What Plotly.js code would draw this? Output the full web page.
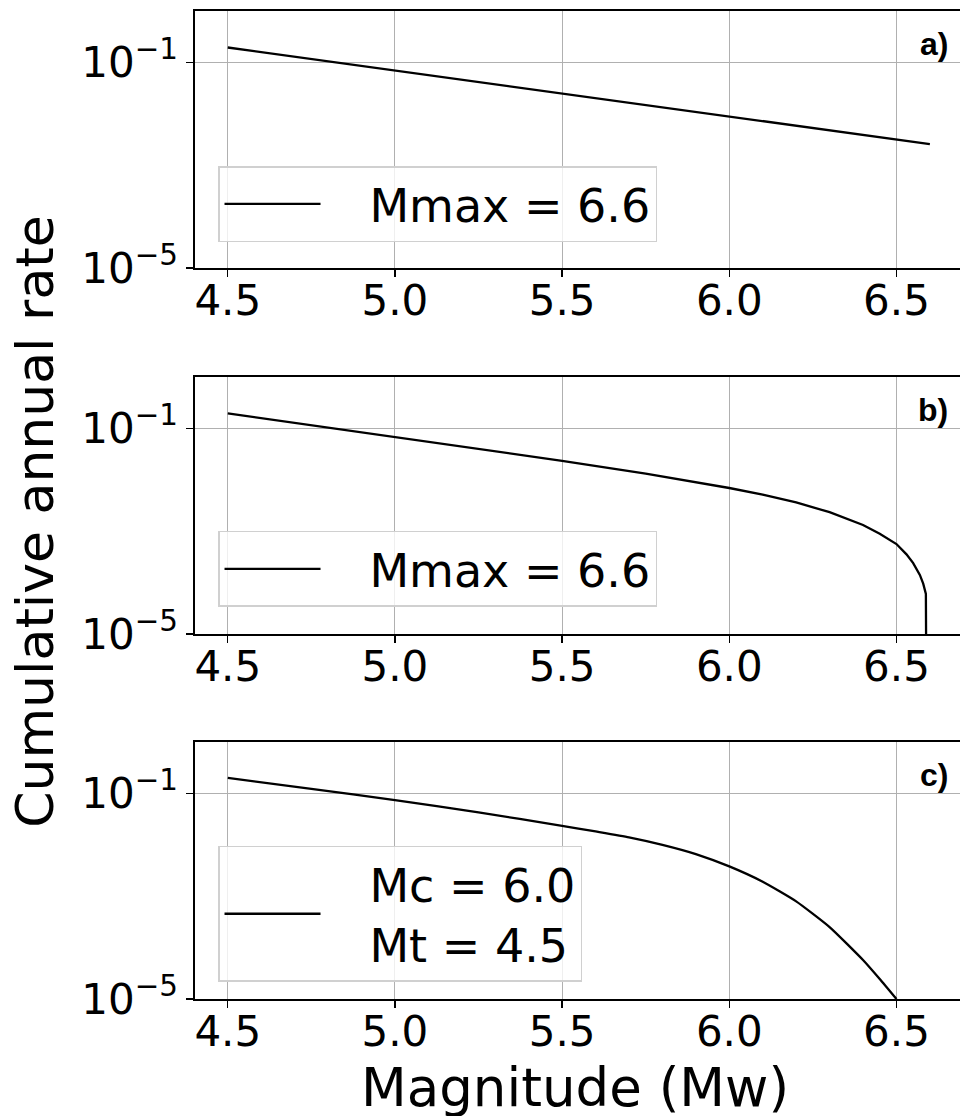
<!DOCTYPE html>
<html>
<head>
<meta charset="utf-8">
<script src="https://cdn.plot.ly/plotly-3.0.1.min.js"></script>
<style>
  html, body { margin: 0; padding: 0; background: #fff; overflow: hidden; }
  #chart { width: 965px; height: 1116px; }
</style>
</head>
<body>
<div id="chart"></div>
<script>
// Magnitude-frequency curves: cumulative annual rate vs. magnitude

// a) unbounded Gutenberg-Richter, cut at Mmax
const magA  = [4.5, 5.0, 5.5, 6.0, 6.5, 6.6];
const rateA = [0.195, 0.0692, 0.0245, 0.00891, 0.00316, 0.00257];

// b) truncated Gutenberg-Richter (Mmax = 6.6)
const magB  = [4.5, 4.75, 5.0, 5.25, 5.5, 5.75, 6.0, 6.1, 6.2, 6.3, 6.4, 6.45, 6.5, 6.53, 6.55, 6.57, 6.58, 6.588, 6.59];
const rateB = [0.195, 0.115, 0.0676, 0.0398, 0.0234, 0.0132, 0.00692, 0.00513, 0.00363, 0.00234, 0.00132,
               0.000891, 0.000562, 0.000355, 0.000240, 0.000141, 0.0000955, 0.0000603, 1e-7];

// c) tapered Gutenberg-Richter (Mc = 6.0, Mt = 4.5)
const magC  = [4.5, 4.75, 5.0, 5.25, 5.5, 5.6, 5.7, 5.8, 5.9, 6.0, 6.1, 6.2, 6.3, 6.4, 6.45, 6.5];
const rateC = [0.200, 0.123, 0.0741, 0.0427, 0.0234, 0.0182, 0.0140, 0.0100, 0.00661, 0.00380,
               0.00191, 0.000794, 0.000251, 0.0000575, 0.0000245, 0.00001];

// legend labels (leading non-breaking spaces leave room after the line sample)
const PAD = '\u00a0\u00a0\u00a0';
const legendA = PAD + 'Mmax = 6.6';
const legendB = PAD + 'Mmax = 6.6';
const legendC = PAD + 'Mc = 6.0<br>' + PAD + 'Mt = 4.5';
const panelLabels = ['a)', 'b)', 'c)'];

const xTicks = [4.5, 5.0, 5.5, 6.0, 6.5];
const xTickText = ['4.5', '5.0', '5.5', '6.0', '6.5'];
const yTicks = [1e-5, 1e-1];
const yTickText = ['10<sup>\u22125</sup>', '10<sup>\u22121</sup>'];

const FONT = 'DejaVu Sans, Verdana, sans-serif';

function lineTrace(x, y, name, xa, ya, legendId, shape) {
  return {
    x: x, y: y, name: name, type: 'scatter', mode: 'lines',
    xaxis: xa, yaxis: ya, legend: legendId,
    line: { color: '#000', width: 2.3, shape: shape || 'linear', smoothing: 0.5 },
    hoverinfo: 'skip'
  };
}

const traces = [
  lineTrace(magA, rateA, legendA, 'x', 'y', 'legend'),
  lineTrace(magB, rateB, legendB, 'x2', 'y2', 'legend2'),
  lineTrace(magC, rateC, legendC, 'x3', 'y3', 'legend3', 'spline')
];

function xAxis(anchor) {
  return {
    anchor: anchor, domain: [0, 1], range: [4.402, 6.705],
    tickvals: xTicks, ticktext: xTickText,
    showgrid: true, gridcolor: '#b0b0b0', gridwidth: 1,
    zeroline: false, showline: true, linecolor: '#000', linewidth: 1.6, mirror: true,
    ticks: 'outside', ticklen: 7, tickwidth: 1.4, tickcolor: '#000',
    ticklabelstandoff: -12,
    tickfont: { family: FONT, size: 42, color: '#000' }
  };
}
function yAxis(anchor, dom) {
  return {
    anchor: anchor, domain: dom, type: 'log', range: [-5, 0],
    tickvals: yTicks, ticktext: yTickText,
    showgrid: true, gridcolor: '#b0b0b0', gridwidth: 1,
    zeroline: false, showline: true, linecolor: '#000', linewidth: 1.6, mirror: true,
    ticks: 'outside', ticklen: 7, tickwidth: 1.4, tickcolor: '#000',
    tickfont: { family: FONT, size: 42, color: '#000' }
  };
}
function legendBox(y) {
  return {
    x: 0.0299, y: y, xanchor: 'left', yanchor: 'top',
    bgcolor: 'rgba(255,255,255,0.8)', bordercolor: '#d0d0d0', borderwidth: 1.5,
    font: { family: FONT, size: 46, color: '#000' },
    itemwidth: 96
  };
}
function panelLabel(text, y) {
  return {
    text: '<b>' + text + '</b>', xref: 'paper', yref: 'paper',
    x: 0.9805, y: y, xanchor: 'right', yanchor: 'middle', showarrow: false,
    font: { family: 'Liberation Sans, Arial, sans-serif', size: 32, color: '#000' }
  };
}

const layout = {
  width: 965, height: 1116,
  margin: { l: 195, r: 0, t: 11, b: 117 },
  paper_bgcolor: '#fff', plot_bgcolor: '#fff',
  showlegend: true,
  xaxis: xAxis('y'), yaxis: yAxis('x', [0.7399, 1]),
  xaxis2: xAxis('y2'), yaxis2: yAxis('x2', [0.3694, 0.6296]),
  xaxis3: xAxis('y3'), yaxis3: yAxis('x3', [0, 0.2601]),
  legend: legendBox(0.8431),
  legend2: legendBox(0.4737),
  legend3: legendBox(0.1549),
  annotations: [
    panelLabel(panelLabels[0], 0.9666),
    panelLabel(panelLabels[1], 0.5962),
    panelLabel(panelLabels[2], 0.2267),
    {
      text: 'Cumulative annual rate', xref: 'paper', yref: 'paper',
      x: -0.2078, y: 0.484, xanchor: 'center', yanchor: 'middle', textangle: -90,
      showarrow: false, font: { family: FONT, size: 52, color: '#000' }
    },
    {
      text: 'Magnitude (Mw)', xref: 'paper', yref: 'paper',
      x: 0.4935, y: -0.090, xanchor: 'center', yanchor: 'middle',
      showarrow: false, font: { family: FONT, size: 53, color: '#000' }
    }
  ]
};

Plotly.newPlot('chart', traces, layout, { staticPlot: true, displayModeBar: false });
</script>
</body>
</html>
